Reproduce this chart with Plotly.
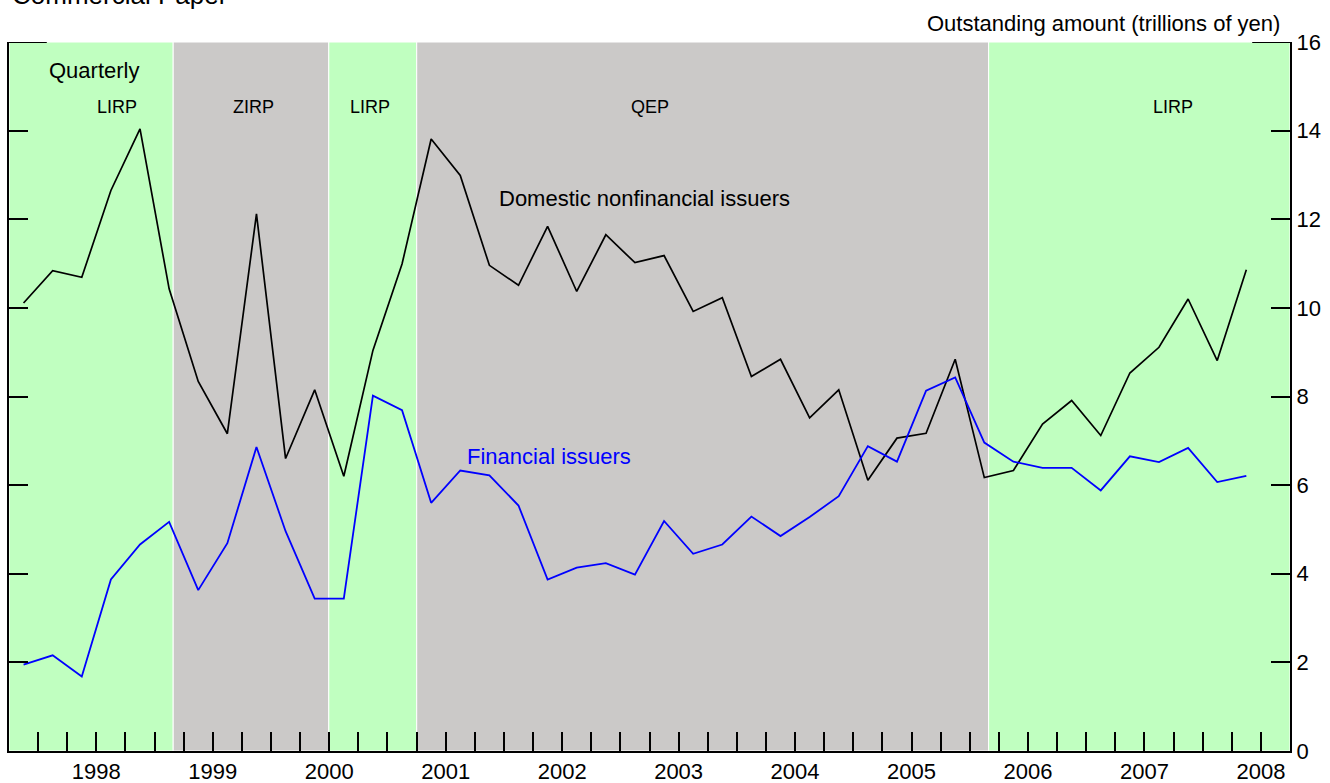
import plotly.graph_objects as go

# ---------------- data ----------------
quarters = [
    "1997Q4",
    "1998Q1", "1998Q2", "1998Q3", "1998Q4",
    "1999Q1", "1999Q2", "1999Q3", "1999Q4",
    "2000Q1", "2000Q2", "2000Q3", "2000Q4",
    "2001Q1", "2001Q2", "2001Q3", "2001Q4",
    "2002Q1", "2002Q2", "2002Q3", "2002Q4",
    "2003Q1", "2003Q2", "2003Q3", "2003Q4",
    "2004Q1", "2004Q2", "2004Q3", "2004Q4",
    "2005Q1", "2005Q2", "2005Q3", "2005Q4",
    "2006Q1", "2006Q2", "2006Q3", "2006Q4",
    "2007Q1", "2007Q2", "2007Q3", "2007Q4",
    "2008Q1", "2008Q2",
]

domestic_nonfinancial = [
    10.11,
    10.84, 10.69, 12.65, 14.04,
    10.43, 8.34, 7.16, 12.12,
    6.60, 8.15, 6.20, 9.04,
    10.99, 13.81, 12.99, 10.96,
    10.51, 11.84, 10.37, 11.65,
    11.02, 11.18, 9.92, 10.23,
    8.45, 8.84, 7.52, 8.15,
    6.11, 7.06, 7.17, 8.84,
    6.17, 6.33, 7.38, 7.91,
    7.12, 8.53, 9.11, 10.20,
    8.81, 10.86,
]

financial = [
    1.95,
    2.16, 1.68, 3.87, 4.66,
    5.17, 3.63, 4.69, 6.86,
    4.96, 3.44, 3.44, 8.02,
    7.69, 5.60, 6.33, 6.22,
    5.54, 3.87, 4.14, 4.24,
    3.98, 5.19, 4.45, 4.66,
    5.29, 4.85, 5.28, 5.75,
    6.88, 6.53, 8.13, 8.43,
    6.96, 6.53, 6.39, 6.39,
    5.88, 6.65, 6.52, 6.84,
    6.07, 6.21,
]

regime_names = ["LIRP", "ZIRP", "LIRP", "QEP", "LIRP"]
regime_starts = [1997.75, 1999.16, 2000.496, 2001.251, 2006.162]
regime_ends = [1999.16, 2000.496, 2001.251, 2006.162, 2008.75]
regime_label_x = [1998.676, 1999.847, 2000.847, 2003.255, 2007.744]

year_labels = [str(y) for y in range(1998, 2009)]
y_tick_values = [0, 2, 4, 6, 8, 10, 12, 14, 16]

# ---------------- helpers ----------------
def quarter_mid(q):
    year, qn = int(q[:4]), int(q[-1])
    return year + (qn - 0.5) / 4.0

x_vals = [quarter_mid(q) for q in quarters]

GREEN = "#C0FFC0"
GRAY = "#CBC9C8"
FONT = "Liberation Sans, Arial, sans-serif"

H_PLOT = 709.0
def py(pix):
    # page pixel -> paper fraction (plot top 42, bottom 751)
    return (751.0 - pix) / H_PLOT

def px_to_year(pix):
    return 1998 + (pix - 38.3) / 116.45

fig = go.Figure()

fig.add_trace(go.Scatter(x=x_vals, y=domestic_nonfinancial, mode="lines",
                         line=dict(color="black", width=1.7), showlegend=False,
                         name="Domestic nonfinancial issuers"))
fig.add_trace(go.Scatter(x=x_vals, y=financial, mode="lines",
                         line=dict(color="#0000FF", width=1.8), showlegend=False,
                         name="Financial issuers"))

shapes = []
for name, s, e in zip(regime_names, regime_starts, regime_ends):
    shapes.append(dict(type="rect", xref="x", yref="paper", x0=s, x1=e, y0=0, y1=1,
                       fillcolor=GRAY if name in ("ZIRP", "QEP") else GREEN,
                       line=dict(color="white", width=1), layer="below"))
# long ticks at 16 on both sides
shapes.append(dict(type="line", xref="paper", yref="y", x0=0, x1=0.0295, y0=16, y1=16,
                   line=dict(color="black", width=2)))
shapes.append(dict(type="line", xref="paper", yref="y", x0=1 - 0.0295, x1=1, y0=16, y1=16,
                   line=dict(color="black", width=2)))

annotations = []
for name, lx in zip(regime_names, regime_label_x):
    annotations.append(dict(x=lx, y=py(107), xref="x", yref="paper", text=name,
                            showarrow=False, font=dict(size=18, color="black", family=FONT),
                            xanchor="center", yanchor="middle"))

annotations += [
    dict(x=px_to_year(94.3), y=py(70), xref="x", yref="paper", text="Quarterly",
         showarrow=False, font=dict(size=22, color="black", family=FONT),
         xanchor="center", yanchor="middle"),
    dict(x=px_to_year(645), y=py(198), xref="x", yref="paper",
         text="Domestic nonfinancial issuers", showarrow=False,
         font=dict(size=22, color="black", family=FONT), xanchor="center", yanchor="middle"),
    dict(x=px_to_year(549), y=py(456), xref="x", yref="paper", text="Financial issuers",
         showarrow=False, font=dict(size=22, color="#0000FF", family=FONT),
         xanchor="center", yanchor="middle"),
    dict(x=(1282 - 9) / 1281.0, y=py(23), xref="paper", yref="paper",
         text="Outstanding amount (trillions of yen)", showarrow=False,
         font=dict(size=22, color="black", family=FONT), xanchor="right", yanchor="middle"),
    dict(x=(10 - 9) / 1281.0, y=py(12.5), xref="paper", yref="paper",
         text="Commercial Paper", showarrow=False,
         font=dict(size=26, color="black", family=FONT), xanchor="left", yanchor="bottom"),
]

x_tick_vals = [1998 + 0.25 * k for k in range(43)]
x_tick_text = []
for v in x_tick_vals:
    if abs((v % 1) - 0.5) < 1e-9:
        x_tick_text.append(year_labels[int(v) - 1998])
    else:
        x_tick_text.append("")

fig.update_layout(
    width=1330, height=783,
    margin=dict(l=9, r=40, t=42, b=32),
    paper_bgcolor="white", plot_bgcolor="white",
    font=dict(family=FONT, size=22, color="black"),
    shapes=shapes, annotations=annotations,
    xaxis=dict(range=[1997.75, 2008.75], tickmode="array", tickvals=x_tick_vals,
               ticktext=x_tick_text, ticks="inside", ticklen=19, tickwidth=2,
               tickcolor="black", showline=True, linewidth=2, linecolor="black",
               showgrid=False, zeroline=False, tickfont=dict(size=22),
               automargin=False),
    yaxis=dict(range=[0, 16], side="right", tickmode="array", tickvals=y_tick_values,
               ticks="inside", ticklen=19, tickwidth=2, tickcolor="black",
               showline=True, linewidth=2, linecolor="black", mirror="ticks",
               showgrid=False, zeroline=False, tickfont=dict(size=22),
               automargin=False),
)

fig.write_html("out.html", config={"displayModeBar": False},
               post_script="document.body.style.margin='0';document.body.style.overflow='hidden';")
